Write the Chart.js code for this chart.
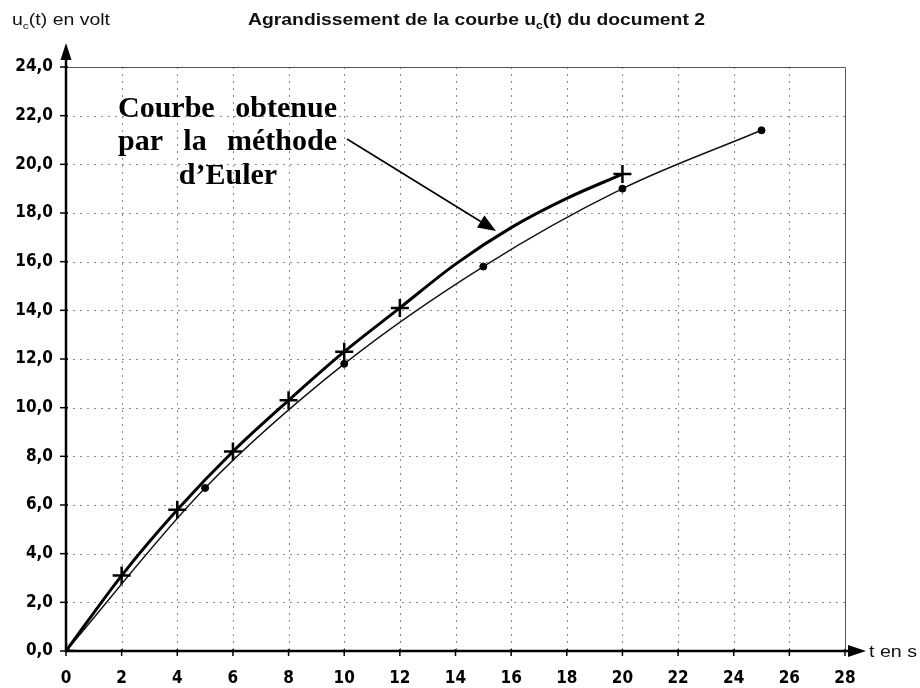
<!DOCTYPE html>
<html>
<head>
<meta charset="utf-8">
<script src="https://cdn.jsdelivr.net/npm/chart.js@4/dist/chart.umd.min.js"></script>
<style>
  html, body { margin: 0; padding: 0; background: #fff; }
  canvas { display: block; }
</style>
</head>
<body>
<canvas id="c" width="920" height="688"></canvas>
<script>
// ---- data ----
const eulerT = [0, 2, 4, 6, 8, 10, 12, 14, 16, 18, 20];
const eulerU = [0, 3.1, 5.8, 8.2, 10.3, 12.3, 14.1, 15.9, 17.4, 18.6, 19.6];
const eulerMarked = [true, true, true, true, true, true, true, false, false, false, true];
const expT = [0, 5, 10, 15, 20, 25];
const expU = [0, 6.7, 11.8, 15.8, 19.0, 21.4];
const xTicks = [0, 2, 4, 6, 8, 10, 12, 14, 16, 18, 20, 22, 24, 26, 28];
const yTicks = [0, 2, 4, 6, 8, 10, 12, 14, 16, 18, 20, 22, 24];

const titleParts = [{t: 'Agrandissement de la courbe u'}, {t: 'c', sub: true}, {t: '(t) du document 2'}];
const yLabelParts = [{t: 'u'}, {t: 'c', sub: true}, {t: '(t) en volt'}];
const xLabelText = 't en s';
const noteLines = [['Courbe', 'obtenue'], ['par', 'la', 'méthode'], ['d’Euler']];

const TICK_FONT = "'Liberation Sans Narrow', 'DejaVu Sans Condensed', 'Liberation Sans', Arial, sans-serif";
const SANS = "'Liberation Sans', Arial, sans-serif";
const SERIF = "'Liberation Serif', 'Times New Roman', serif";

function drawRich(ctx, parts, x, base, size, weight, targetW) {
  const subSize = size * 0.62;
  let total = 0;
  parts.forEach(p => {
    ctx.font = weight + ' ' + (p.sub ? subSize : size) + 'px ' + SANS;
    p.w = ctx.measureText(p.t).width;
    total += p.w;
  });
  const s = targetW ? targetW / total : 1;
  ctx.save();
  ctx.translate(x, base);
  ctx.scale(s, 1);
  ctx.textAlign = 'left';
  ctx.textBaseline = 'alphabetic';
  let cx = 0;
  parts.forEach(p => {
    ctx.font = weight + ' ' + (p.sub ? subSize : size) + 'px ' + SANS;
    ctx.fillText(p.t, cx, p.sub ? size * 0.22 : 0);
    cx += p.w;
  });
  ctx.restore();
}

const decor = {
  id: 'decor',
  beforeDatasetsDraw(chart) {
    const {ctx, chartArea: a, scales: {x, y}} = chart;
    ctx.save();
    ctx.strokeStyle = '#8a8a8a';
    ctx.lineWidth = 1;
    ctx.setLineDash([2, 5]);
    xTicks.forEach(v => {
      if (v === 0 || v === 28) return;
      const px = Math.round(x.getPixelForValue(v)) + 0.5;
      ctx.beginPath(); ctx.moveTo(px, a.top); ctx.lineTo(px, a.bottom); ctx.stroke();
    });
    yTicks.forEach(v => {
      if (v === 0 || v === 24) return;
      const py = Math.round(y.getPixelForValue(v)) + 0.5;
      ctx.beginPath(); ctx.moveTo(a.left, py); ctx.lineTo(a.right, py); ctx.stroke();
    });
    ctx.setLineDash([]);
    // top & right frame
    ctx.strokeStyle = '#555';
    ctx.lineWidth = 1;
    ctx.beginPath();
    ctx.moveTo(a.left, a.top + 0.5); ctx.lineTo(a.right + 0.5, a.top + 0.5);
    ctx.lineTo(a.right + 0.5, a.bottom);
    ctx.stroke();
    ctx.restore();
  },
  afterDraw(chart) {
    const {ctx, chartArea: a, scales: {x, y}} = chart;
    const x0 = x.getPixelForValue(0), y0 = y.getPixelForValue(0);
    ctx.save();
    ctx.fillStyle = '#000';
    ctx.strokeStyle = '#000';
    // tick marks
    ctx.lineWidth = 1.5;
    yTicks.forEach(v => {
      const py = y.getPixelForValue(v);
      ctx.beginPath(); ctx.moveTo(x0 - 6, py); ctx.lineTo(x0 + 2, py); ctx.stroke();
    });
    xTicks.forEach(v => {
      const px = x.getPixelForValue(v);
      ctx.beginPath(); ctx.moveTo(px, y0 - 2); ctx.lineTo(px, y0 + 5); ctx.stroke();
    });
    // axes
    ctx.lineWidth = 2.5;
    ctx.beginPath(); ctx.moveTo(x0, y0 + 1); ctx.lineTo(x0, a.top - 8); ctx.stroke();
    ctx.beginPath(); ctx.moveTo(x0 - 1, y0); ctx.lineTo(a.right + 8, y0); ctx.stroke();
    // arrow heads
    ctx.beginPath();
    ctx.moveTo(x0, a.top - 24); ctx.lineTo(x0 - 5.5, a.top - 7); ctx.lineTo(x0 + 5.5, a.top - 7); ctx.closePath(); ctx.fill();
    ctx.beginPath();
    ctx.moveTo(a.right + 21, y0); ctx.lineTo(a.right + 3, y0 - 6); ctx.lineTo(a.right + 3, y0 + 6); ctx.closePath(); ctx.fill();

    // texts
    ctx.fillStyle = '#111';
    drawRich(ctx, yLabelParts, 12, 25, 16, 'normal', 98);
    drawRich(ctx, titleParts, 248, 25, 16.5, 'bold', 457);
    drawRich(ctx, [{t: xLabelText}], 869, 657, 17, 'normal', 48);

    // annotation
    ctx.fillStyle = '#000';
    ctx.font = 'bold 30px ' + SERIF;
    ctx.textBaseline = 'alphabetic';
    const L = 118, R = 337;
    const bases = [117, 150, 184];
    [0, 1].forEach(i => {
      const words = noteLines[i];
      let wsum = 0;
      words.forEach(w => wsum += ctx.measureText(w).width);
      const gap = (R - L - wsum) / (words.length - 1);
      let cx = L;
      ctx.textAlign = 'left';
      words.forEach(w => { ctx.fillText(w, cx, bases[i]); cx += ctx.measureText(w).width + gap; });
    });
    ctx.textAlign = 'center';
    ctx.fillText(noteLines[2][0], 228, bases[2]);

    // pointer arrow
    const sx = 347, sy = 139, tx = 496, ty = 231;
    const ang = Math.atan2(ty - sy, tx - sx);
    const hl = 18, hw = 7;
    const bx = tx - hl * Math.cos(ang), by = ty - hl * Math.sin(ang);
    ctx.lineWidth = 1.6;
    ctx.beginPath(); ctx.moveTo(sx, sy); ctx.lineTo(bx, by); ctx.stroke();
    ctx.beginPath();
    ctx.moveTo(tx, ty);
    ctx.lineTo(bx + hw * Math.sin(ang), by - hw * Math.cos(ang));
    ctx.lineTo(bx - hw * Math.sin(ang), by + hw * Math.cos(ang));
    ctx.closePath(); ctx.fill();
    ctx.restore();
  }
};

const chart = new Chart(document.getElementById('c'), {
  type: 'line',
  data: {
    datasets: [
      {
        label: 'Euler',
        data: eulerT.map((t, i) => ({x: t, y: eulerU[i]})),
        borderColor: '#000',
        backgroundColor: '#000',
        borderWidth: 3,
        cubicInterpolationMode: 'monotone',
        pointStyle: 'cross',
        pointRadius: eulerMarked.map(m => m ? 9 : 0),
        pointBorderWidth: 2.5,
        pointBorderColor: '#000',
        fill: false
      },
      {
        label: 'Expérience',
        data: expT.map((t, i) => ({x: t, y: expU[i]})),
        borderColor: '#111',
        backgroundColor: '#000',
        borderWidth: 1.4,
        cubicInterpolationMode: 'monotone',
        pointStyle: 'circle',
        pointRadius: 3.5,
        pointBorderWidth: 1,
        pointBorderColor: '#000',
        fill: false
      }
    ]
  },
  options: {
    responsive: false,
    animation: false,
    events: [],
    layout: {padding: {left: 0, top: 67, right: 75, bottom: 0}},
    plugins: {legend: {display: false}, tooltip: {enabled: false}, title: {display: false}},
    scales: {
      x: {
        type: 'linear', min: 0, max: 28,
        afterFit(s) { s.height = 37; },
        afterBuildTicks(s) { s.ticks = xTicks.map(v => ({value: v})); },
        grid: {display: false, drawTicks: false},
        border: {display: false},
        ticks: {
          color: '#000', padding: 17, maxRotation: 0, autoSkip: false,
          font: {family: TICK_FONT, size: 17, weight: 'bold'},
          callback: v => String(v)
        }
      },
      y: {
        type: 'linear', min: 0, max: 24,
        afterFit(s) { s.width = 66; },
        afterBuildTicks(s) { s.ticks = yTicks.map(v => ({value: v})); },
        grid: {display: false, drawTicks: false},
        border: {display: false},
        ticks: {
          color: '#000', padding: 13, autoSkip: false,
          font: {family: TICK_FONT, size: 17, weight: 'bold'},
          callback: v => Number(v).toFixed(1).replace('.', ',')
        }
      }
    }
  },
  plugins: [decor]
});
</script>
</body>
</html>
